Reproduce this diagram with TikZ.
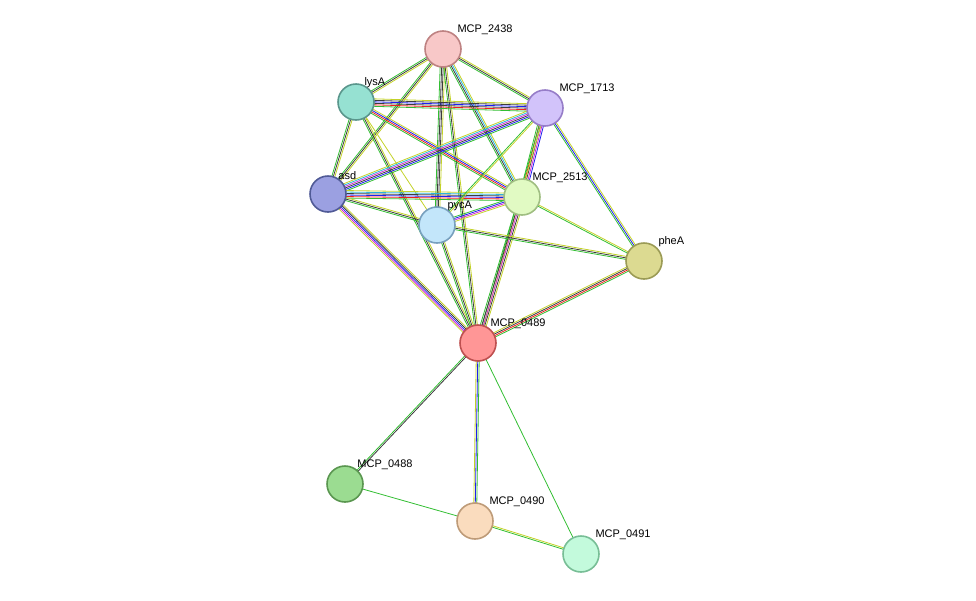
\documentclass[tikz,border=0pt]{standalone}
\usepackage{fontspec}
\setmainfont{Liberation Sans}
\usetikzlibrary{calc, backgrounds}

\definecolor{eG}{RGB}{50,190,50}
\definecolor{eK}{RGB}{60,60,60}
\definecolor{eY}{RGB}{195,210,40}
\definecolor{eR}{RGB}{240,30,30}
\definecolor{eB}{RGB}{30,30,240}
\definecolor{eM}{RGB}{210,40,210}
\definecolor{eC}{RGB}{40,180,220}

% bundle of parallel coloured lines between two nodes
\newcommand\link[3]{%
  \foreach \c [count=\i] in {#3} {\xdef\nlk{\i}}
  \foreach \c [count=\i] in {#3} {
    \pgfmathsetmacro\off{(\i-(\nlk+1)/2)*1.5}
    \draw[\c, line width=0.8pt] ($(#1)!\off pt!90:(#2)$) -- ($(#2)!\off pt!-90:(#1)$);
  }}

\begin{document}
\begin{tikzpicture}[
    x=1pt, y=1pt,
    protein/.style={circle, draw, line width=1.6pt, minimum size=36pt, inner sep=0pt},
    lbl/.style={font=\fontsize{11}{12}\selectfont, inner sep=1pt, anchor=south west}
]
\useasboundingbox (0,0) rectangle (976,-600);

% proteins
\node[protein, fill={rgb,255:red,248;green,200;blue,200}, draw={rgb,255:red,190;green,130;blue,130},
  label={[lbl]north east:MCP\_2438}] (p2438) at (443,-49) {};
\node[protein, fill={rgb,255:red,150;green,225;blue,210}, draw={rgb,255:red,90;green,150;blue,140},
  label={[lbl, xshift=-6pt]north east:lysA}] (lysA) at (356,-102) {};
\node[protein, fill={rgb,255:red,210;green,195;blue,250}, draw={rgb,255:red,150;green,125;blue,200},
  label={[lbl]north east:MCP\_1713}] (p1713) at (545,-108) {};
\node[protein, fill={rgb,255:red,155;green,160;blue,225}, draw={rgb,255:red,80;green,90;blue,150},
  label={[lbl, xshift=-4pt]north east:asd}] (asd) at (328,-194) {};
\node[protein, fill={rgb,255:red,225;green,250;blue,195}, draw={rgb,255:red,160;green,190;blue,130},
  label={[lbl, xshift=-4pt]north east:MCP\_2513}] (p2513) at (522,-197) {};
\node[protein, fill={rgb,255:red,195;green,230;blue,250}, draw={rgb,255:red,120;green,160;blue,190},
  label={[lbl, xshift=-4pt]north east:pycA}] (pycA) at (437,-225) {};
\node[protein, fill={rgb,255:red,220;green,218;blue,145}, draw={rgb,255:red,155;green,155;blue,85},
  label={[lbl]north east:pheA}] (pheA) at (644,-261) {};
\node[protein, fill={rgb,255:red,255;green,150;blue,150}, draw={rgb,255:red,190;green,80;blue,80},
  label={[lbl, xshift=-2pt]north east:MCP\_0489}] (p0489) at (478,-343) {};
\node[protein, fill={rgb,255:red,155;green,220;blue,145}, draw={rgb,255:red,90;green,150;blue,80},
  label={[lbl, xshift=-2pt]north east:MCP\_0488}] (p0488) at (345,-484) {};
\node[protein, fill={rgb,255:red,250;green,220;blue,190}, draw={rgb,255:red,190;green,155;blue,120},
  label={[lbl]north east:MCP\_0490}] (p0490) at (475,-521) {};
\node[protein, fill={rgb,255:red,195;green,250;blue,220}, draw={rgb,255:red,120;green,190;blue,150},
  label={[lbl]north east:MCP\_0491}] (p0491) at (581,-554) {};

% evidence lines
\begin{scope}[on background layer]
\link{p2438}{lysA}{eG,eK,eY}
\link{p2438}{asd}{eG,eK,eY}
\link{p2438}{pycA}{eG,eK,eK,eY}
\link{p2438}{p1713}{eG,eK,eY}
\link{p2438}{p2513}{eG,eK,eC,eY}
\link{p2438}{p0489}{eG,eK,eY}
\link{lysA}{p1713}{eG,eR,eK,eB,eK,eY}
\link{lysA}{asd}{eG,eK,eY}
\link{lysA}{p2513}{eG,eR,eB,eY}
\link{lysA}{pycA}{eY}
\link{lysA}{p0489}{eG,eK,eY}
\link{asd}{p1713}{eG,eB,eK,eM,eC,eY}
\link{asd}{p2513}{eG,eR,eB,eK,eC,eY}
\link{asd}{pycA}{eG,eK,eY}
\link{asd}{p0489}{eY,eM,eB,eK,eY}
\link{p1713}{p2513}{eG,eR,eK,eM,eB}
\link{p1713}{pycA}{eG,eY}
\link{p1713}{pheA}{eG,eB,eY}
\link{p1713}{p0489}{eG,eY}
\link{p2513}{pycA}{eG,eB,eM,eY}
\link{p2513}{pheA}{eG,eY}
\link{p2513}{p0489}{eG,eK,eM,eK,eY}
\link{pycA}{pheA}{eG,eK,eY}
\link{pycA}{p0489}{eG,eK,eY}
\link{p0489}{pheA}{eG,eR,eK,eY}
\link{p0489}{p0488}{eG,eK}
\link{p0489}{p0490}{eY,eB,eG}
\link{p0489}{p0491}{eG}
\link{p0488}{p0490}{eG}
\link{p0490}{p0491}{eG,eY}
\end{scope}
\end{tikzpicture}
\end{document}
